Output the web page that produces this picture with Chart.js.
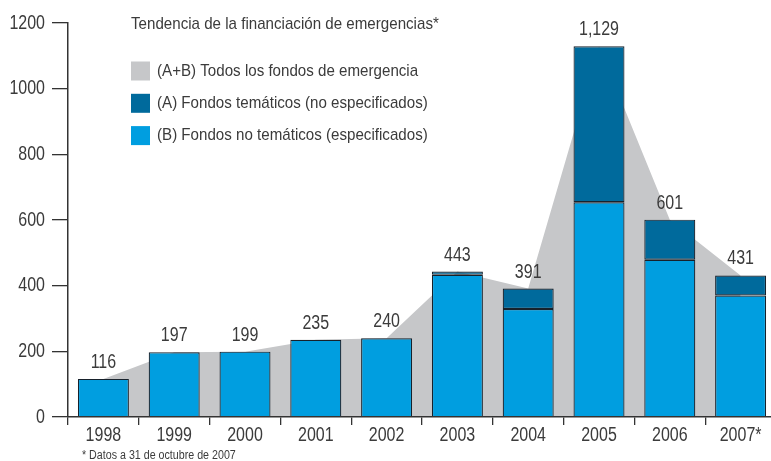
<!DOCTYPE html>
<html>
<head>
<meta charset="utf-8">
<script src="https://cdn.jsdelivr.net/npm/chart.js@4.4.1/dist/chart.umd.min.js"></script>
<style>
  html, body { margin: 0; padding: 0; background: #fff; overflow: hidden; }
  #wrap { width: 776px; height: 461px; position: relative; }
</style>
</head>
<body>
<div id="wrap"><canvas id="fundsChart"></canvas></div>
<script>
// data (US$ millones)
const years = ['1998', '1999', '2000', '2001', '2002', '2003', '2004', '2005', '2006', '2007*'];
const totals = [116, 197, 199, 235, 240, 443, 391, 1129, 601, 431];              // (A+B)
const thematic = [null, null, null, null, null, 10, 62, 475, 122, 61];           // (A)
const nonThematic = [116, 197, 199, 235, 240, 433, 329, 654, 479, 370];          // (B)
const yTicks = [0, 200, 400, 600, 800, 1000, 1200];

const FONT = "'Liberation Sans', Arial, sans-serif";
// the original type is a condensed face, so squeeze Liberation a bit
const SX_NUM = 0.8, SX_TXT = 0.89;
const TEXT = '#3b3b3b';
const GRAY = '#c6c7c9', DARK = '#006a9c', LIGHT = '#009ee0';
const EDGE = '#17212b';

const legendItems = [
  { label: '(A+B) Todos los fondos de emergencia', color: GRAY },
  { label: '(A) Fondos temáticos (no especificados)', color: DARK },
  { label: '(B) Fondos no temáticos (especificados)', color: LIGHT }
];

function condText(ctx, txt, x, y, size, align, baseline, sx) {
  ctx.save();
  ctx.font = size + 'px ' + FONT;
  ctx.textAlign = align;
  ctx.textBaseline = baseline;
  ctx.fillStyle = TEXT;
  ctx.translate(x, y);
  ctx.scale(sx, 1);
  ctx.fillText(txt, 0, 0);
  ctx.restore();
}

// tick labels, value labels, title, legend and footnote
const extras = {
  id: 'extras',
  afterDraw(chart) {
    const ctx = chart.ctx;
    const x = chart.scales.x, y = chart.scales.y;

    y.ticks.forEach(t => condText(ctx, String(t.value), 45, y.getPixelForValue(t.value), 20, 'right', 'middle', SX_NUM));
    years.forEach((yr, i) => condText(ctx, yr, x.getPixelForValue(i), 435, 20, 'center', 'middle', SX_NUM));

    totals.forEach((v, i) => {
      condText(ctx, v.toLocaleString('en-US'), x.getPixelForValue(i), y.getPixelForValue(v) - 11, 20, 'center', 'alphabetic', SX_NUM);
    });

    condText(ctx, 'Tendencia de la financiación de emergencias*', 131, 29, 17, 'left', 'alphabetic', SX_TXT);

    legendItems.forEach((it, i) => {
      const cy = 71 + i * 32.3;
      ctx.fillStyle = it.color;
      ctx.fillRect(131, cy - 9.5, 19, 19);
      condText(ctx, it.label, 157, cy, 17, 'left', 'middle', SX_TXT);
    });

    condText(ctx, '* Datos a 31 de octubre de 2007', 82, 456, 12, 'left', 'middle', SX_TXT);
  }
};

const ctx1 = document.getElementById('fundsChart').getContext('2d');
new Chart(ctx1, {
  type: 'bar',
  data: {
    labels: years,
    datasets: [{
      label: '(B) Fondos no temáticos (especificados)',
      data: nonThematic,
      backgroundColor: LIGHT,
      borderColor: EDGE,
      borderWidth: 1.2,
      borderSkipped: 'bottom',
      stack: 'funds',
      order: 1
    }, {
      label: '(A) Fondos temáticos (no especificados)',
      data: thematic,
      backgroundColor: DARK,
      borderColor: EDGE,
      borderWidth: 1.2,
      borderSkipped: false,
      stack: 'funds',
      order: 1
    }, {
      type: 'line',
      label: '(A+B) Todos los fondos de emergencia',
      data: totals,
      backgroundColor: GRAY,
      borderWidth: 0,
      pointRadius: 0,
      fill: 'origin',
      tension: 0,
      stack: 'total',
      order: 2
    }]
  },
  options: {
    responsive: true,
    maintainAspectRatio: false,
    animation: false,
    layout: { padding: { top: 23, left: 0, right: 0, bottom: 0 } },
    datasets: { bar: { barPercentage: 0.72, categoryPercentage: 1.0 } },
    plugins: { legend: { display: false }, tooltip: { enabled: false } },
    scales: {
      x: {
        stacked: true,
        afterFit: s => { s.height = 44; },
        grid: { display: true, z: 1, drawOnChartArea: false, offset: true, tickLength: 8, color: '#333', lineWidth: 1.3 },
        border: { display: true, z: 1, color: '#333', width: 1.5 },
        ticks: { display: false }
      },
      y: {
        stacked: true,
        min: 0,
        max: 1200,
        afterFit: s => { s.width = 68; },
        afterBuildTicks: s => { s.ticks = yTicks.map(v => ({ value: v })); },
        grid: { display: true, z: 1, drawOnChartArea: false, tickLength: 16, color: '#333', lineWidth: 1.3 },
        border: { display: true, z: 1, color: '#333', width: 1.5 },
        ticks: { display: false }
      }
    }
  },
  plugins: [extras]
});
</script>
</body>
</html>
